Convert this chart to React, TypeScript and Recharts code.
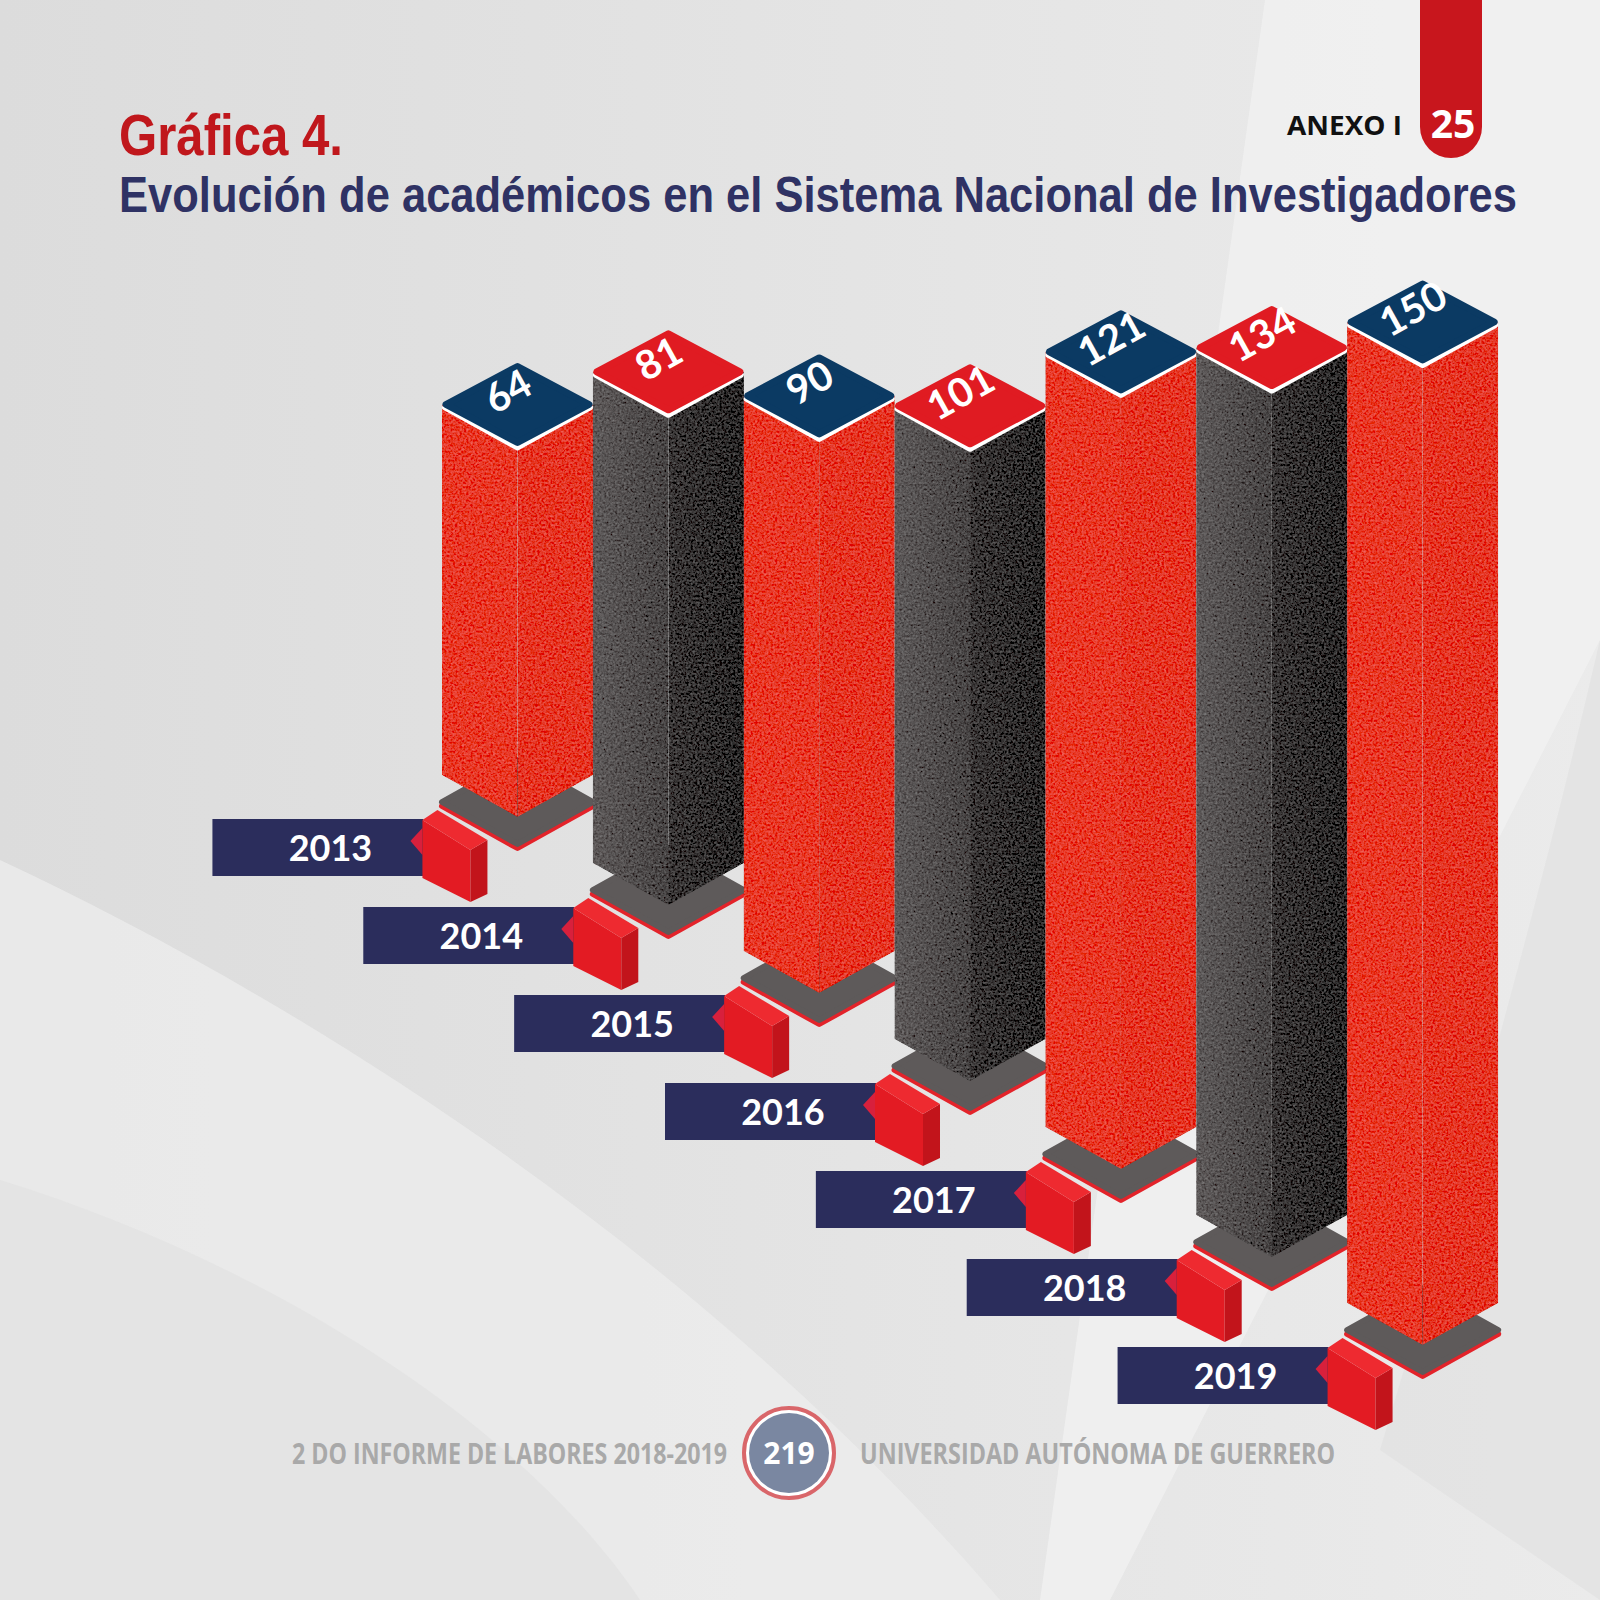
import React from 'react';
import { BarChart, Bar, XAxis, YAxis } from 'recharts';

// datos de la gráfica
const years = ['2013', '2014', '2015', '2016', '2017', '2018', '2019'];
const academicos = [64, 81, 90, 101, 121, 134, 150];

const data = years.map((year, i) => ({ year, academicos: academicos[i] }));

const STEP = 88; // desplazamiento diagonal de cada columna
const DH = 42; // media altura del rombo
const NAVY = '#0b3a63';
const RED = '#e01b22';

const Column = (props: any) => {
  const { x, y, width, height, index } = props;
  const shift = (data.length - 1 - index) * STEP;
  const top = y - shift;
  const pb = y + height - shift;
  const w = width;
  const cx = x + w / 2;
  const bb = pb - 27;
  const even = index % 2 === 0;
  const capFill = even ? NAVY : RED;

  return (
    <g>
      {/* base */}
      <polygon points={`${x},${pb + 4} ${cx},${pb - DH + 4} ${x + w},${pb + 4} ${cx},${pb + DH + 4}`} fill="#e3232a" stroke="#e3232a" strokeWidth={6} strokeLinejoin="round" />
      <polygon points={`${x},${pb} ${cx},${pb - DH} ${x + w},${pb} ${cx},${pb + DH}`} fill="#5e5a5a" stroke="#5e5a5a" strokeWidth={6} strokeLinejoin="round" />
      {/* cuerpo */}
      <polygon
        points={`${x},${top} ${cx},${top + DH} ${cx},${bb + DH} ${x},${bb}`}
        fill={even ? '#e83a2a' : 'url(#grayL)'}
        filter="url(#grain)"
      />
      <polygon
        points={`${cx},${top + DH} ${x + w},${top} ${x + w},${bb} ${cx},${bb + DH}`}
        fill={even ? '#e53727' : 'url(#grayR)'}
        filter="url(#grain)"
      />
      {/* tapa */}
      <polygon points={`${x + 3},${top + 3} ${cx},${top - DH + 5} ${x + w - 3},${top + 3} ${cx},${top + DH + 1}`} fill="#fff" stroke="#fff" strokeWidth={6} strokeLinejoin="round" />
      <polygon points={`${x + 4},${top} ${cx},${top - DH + 4} ${x + w - 4},${top} ${cx},${top + DH - 4}`} fill={capFill} stroke={capFill} strokeWidth={7} strokeLinejoin="round" />
      <text
        x={cx - 10}
        y={top - 14}
        transform={`rotate(-29 ${cx - 10} ${top - 14})`}
        textAnchor="middle"
        dominantBaseline="central"
        fill="#fff"
        fontFamily="Lato, 'Open Sans', sans-serif"
        fontWeight={700}
        fontSize={40}
      >
        {academicos[index]}
      </text>
    </g>
  );
};

const YearTag = (props: any) => {
  const { x, y, payload, index } = props;
  const shift = (data.length - 1 - index) * STEP;
  const py = y - shift;
  const cx = x;
  return (
    <g>
      <rect x={cx - 305} y={py + 17} width={211} height={57} fill="#2b2d5c" />
      <text x={cx - 187} y={py + 59} textAnchor="middle" fill="#fff" fontFamily="Lato, sans-serif" fontWeight={700} fontSize={36}>
        {payload.value}
      </text>
      <polygon points={`${cx - 107},${py + 39} ${cx - 95},${py + 26} ${cx - 95},${py + 53}`} fill="#d8203c" />
      <polygon points={`${cx - 95},${py + 18} ${cx - 47},${py + 48} ${cx - 47},${py + 100} ${cx - 95},${py + 76}`} fill="#e31b23" />
      <polygon points={`${cx - 47},${py + 48} ${cx - 30},${py + 38} ${cx - 30},${py + 92} ${cx - 47},${py + 100}`} fill="#c2141b" />
      <polygon points={`${cx - 95},${py + 18} ${cx - 80},${py + 8} ${cx - 30},${py + 38} ${cx - 47},${py + 48}`} fill="#ee2a30" />
    </g>
  );
};

// texto comprimido horizontalmente (la fuente original es condensada)
const NarrowText = ({ x, y, width, sx, children, ...rest }: any) => (
  <text transform={`translate(${x} ${y}) scale(${sx} 1)`} x={0} y={0} textLength={width / sx} lengthAdjust="spacingAndGlyphs" {...rest}>
    {children}
  </text>
);

const Background = () => (
  <svg width={1600} height={1600} style={{ position: 'absolute', left: 0, top: 0 }}>
    <defs>
      <linearGradient id="bg" x1="0" y1="0" x2="1" y2="0">
        <stop offset="0%" stopColor="#dcdcdc" />
        <stop offset="100%" stopColor="#ebebeb" />
      </linearGradient>
    </defs>
    <rect width={1600} height={1600} fill="url(#bg)" />
    <polygon points="1265,0 1600,0 1600,640 1110,1600 1040,1600" fill="#f1f1f1" opacity={0.75} />
    <path d="M0,860 C300,1000 700,1250 1000,1600 L0,1600 Z" fill="#ececec" opacity={0.8} />
    <path d="M0,1180 C260,1260 520,1420 640,1600 L0,1600 Z" fill="#e2e2e2" opacity={0.8} />
    <path d="M1600,640 C1540,900 1470,1150 1380,1450 L1600,1600 Z" fill="#e0e0e0" opacity={0.6} />
  </svg>
);

const Header = () => (
  <svg width={1600} height={240} style={{ position: 'absolute', left: 0, top: 0 }}>
    <NarrowText x={119} y={155} width={224} sx={0.86} fill="#c0171c" fontFamily="'Liberation Sans', Arial, sans-serif" fontWeight={700} fontSize={57}>
      Gráfica 4.
    </NarrowText>
    <NarrowText x={119} y={212} width={1398} sx={0.85} fill="#2f3264" fontFamily="'Liberation Sans', Arial, sans-serif" fontWeight={700} fontSize={50}>
      Evolución de académicos en el Sistema Nacional de Investigadores
    </NarrowText>
    <NarrowText x={1287} y={135} width={115} sx={0.9} fill="#111" fontFamily="'Open Sans', sans-serif" fontWeight={700} fontSize={27}>
      ANEXO I
    </NarrowText>
    <path d="M1420,0 L1482,0 L1482,127 A31,31 0 0 1 1420,127 Z" fill="#c8161d" />
    <text x={1453} y={138} textAnchor="middle" fill="#fff" fontFamily="'Open Sans', sans-serif" fontWeight={700} fontSize={39}>
      25
    </text>
  </svg>
);

const Footer = () => (
  <svg width={1600} height={200} style={{ position: 'absolute', left: 0, top: 1380 }}>
    <NarrowText x={292} y={84} width={435} sx={0.79} fill="#a9a9a9" fontFamily="'Open Sans', sans-serif" fontWeight={700} fontSize={28}>
      2 DO INFORME DE LABORES 2018-2019
    </NarrowText>
    <circle cx={789} cy={73} r={45} fill="#fff" stroke="#d9666a" strokeWidth={4} />
    <circle cx={789} cy={73} r={40} fill="#7a87a1" />
    <text x={789} y={84} textAnchor="middle" fill="#fff" fontFamily="'Open Sans', sans-serif" fontWeight={700} fontSize={30}>
      219
    </text>
    <NarrowText x={860} y={84} width={475} sx={0.79} fill="#a9a9a9" fontFamily="'Open Sans', sans-serif" fontWeight={700} fontSize={28}>
      UNIVERSIDAD AUTÓNOMA DE GUERRERO
    </NarrowText>
  </svg>
);

const App = () => (
  <div style={{ position: 'absolute', left: 0, top: 0, width: 1600, height: 1600, overflow: 'hidden' }}>
    <Background />
    <svg width={0} height={0} style={{ position: 'absolute' }}>
      <defs>
        <filter id="grain" x="0" y="0" width="100%" height="100%">
          <feTurbulence type="fractalNoise" baseFrequency="0.45" numOctaves={2} seed={4} result="noise" />
          <feColorMatrix
            in="noise"
            type="matrix"
            values="0.33 0.33 0.33 0 0  0.33 0.33 0.33 0 0  0.33 0.33 0.33 0 0  0 0 0 0 1"
            result="gray"
          />
          <feComposite in="SourceGraphic" in2="gray" operator="arithmetic" k1={0} k2={1} k3={0.36} k4={-0.18} result="b" />
          <feComposite in="b" in2="SourceGraphic" operator="in" />
        </filter>
        <linearGradient id="grayL" x1="0" y1="0" x2="1" y2="0">
          <stop offset="0%" stopColor="#5e5a5a" />
          <stop offset="100%" stopColor="#474444" />
        </linearGradient>
        <linearGradient id="grayR" x1="0" y1="0" x2="1" y2="0">
          <stop offset="0%" stopColor="#3a3737" />
          <stop offset="100%" stopColor="#292727" />
        </linearGradient>
      </defs>
    </svg>
    <Header />
    <div style={{ position: 'absolute', left: 0, top: 0 }}>
      <BarChart width={1600} height={1600} data={data} margin={{ top: 322, right: 102, left: 442, bottom: 240 }} barCategoryGap={0}>
        <XAxis dataKey="year" height={30} axisLine={false} tickLine={false} tickSize={0} tickMargin={0} interval={0} tick={(p: any) => <YearTag {...p} />} />
        <YAxis hide domain={[8, 150]} />
        <Bar dataKey="academicos" shape={(p: any) => <Column {...p} />} isAnimationActive={false} />
      </BarChart>
    </div>
    <Footer />
  </div>
);

export default App;
